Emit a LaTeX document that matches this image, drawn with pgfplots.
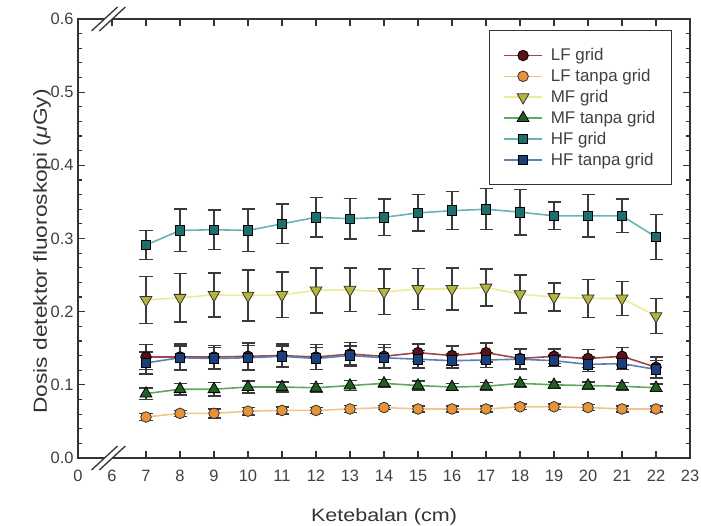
\documentclass[border=0pt]{standalone}
\usepackage{fontspec}
\setmainfont{Liberation Sans}
\newfontfamily\widefont[FakeStretch=1.2]{Liberation Sans}
\usepackage{pgfplots}
\usepackage{pgfplotstable}
\pgfplotsset{compat=1.18}
\definecolor{lfgF}{HTML}{5A1014}
\definecolor{lfgL}{HTML}{A04848}
\definecolor{lftF}{HTML}{E8923A}
\definecolor{lftL}{HTML}{F2C488}
\definecolor{mfgF}{HTML}{B5B53A}
\definecolor{mfgL}{HTML}{ECEC98}
\definecolor{mftF}{HTML}{1F5F1F}
\definecolor{mftL}{HTML}{60A860}
\definecolor{hfgF}{HTML}{1E6E6E}
\definecolor{hfgL}{HTML}{66B4B4}
\definecolor{hftF}{HTML}{1A3F7A}
\definecolor{hftL}{HTML}{5882B4}
\definecolor{errc}{HTML}{3A3A3A}

\pgfplotstableread{
x y e
7 0.138 0.017
8 0.138 0.018
9 0.138 0.016
10 0.139 0.018
11 0.140 0.016
12 0.138 0.017
13 0.142 0.016
14 0.139 0.016
15 0.144 0.012
16 0.140 0.013
17 0.144 0.013
18 0.136 0.014
19 0.139 0.010
20 0.136 0.012
21 0.139 0.012
22 0.124 0.014
}\lfgrid
\pgfplotstableread{
x y e
7 0.056 0.005
8 0.061 0.004
9 0.061 0.006
10 0.064 0.005
11 0.065 0.005
12 0.065 0.004
13 0.067 0.005
14 0.069 0.003
15 0.067 0.004
16 0.067 0.004
17 0.067 0.004
18 0.070 0.004
19 0.070 0.004
20 0.069 0.004
21 0.067 0.004
22 0.067 0.004
}\lftanpa
\pgfplotstableread{
x y e
7 0.216 0.032
8 0.219 0.033
9 0.223 0.030
10 0.222 0.035
11 0.223 0.031
12 0.229 0.031
13 0.230 0.030
14 0.227 0.031
15 0.231 0.028
16 0.231 0.029
17 0.233 0.025
18 0.224 0.026
19 0.220 0.019
20 0.218 0.026
21 0.218 0.023
22 0.194 0.024
}\mfgrid
\pgfplotstableread{
x y e
7 0.088 0.008
8 0.094 0.008
9 0.094 0.009
10 0.097 0.008
11 0.097 0.007
12 0.096 0.006
13 0.099 0.007
14 0.102 0.005
15 0.099 0.006
16 0.097 0.005
17 0.098 0.005
18 0.102 0.005
19 0.100 0.004
20 0.099 0.005
21 0.098 0.005
22 0.096 0.005
}\mftanpa
\pgfplotstableread{
x y e
7 0.291 0.020
8 0.311 0.029
9 0.312 0.027
10 0.311 0.029
11 0.320 0.027
12 0.329 0.027
13 0.327 0.028
14 0.329 0.025
15 0.335 0.025
16 0.338 0.026
17 0.340 0.028
18 0.336 0.031
19 0.331 0.019
20 0.331 0.029
21 0.331 0.023
22 0.302 0.031
}\hfgrid
\pgfplotstableread{
x y e
7 0.130 0.015
8 0.137 0.016
9 0.136 0.015
10 0.137 0.017
11 0.139 0.014
12 0.136 0.015
13 0.140 0.013
14 0.137 0.014
15 0.135 0.012
16 0.133 0.010
17 0.134 0.010
18 0.135 0.014
19 0.133 0.008
20 0.128 0.010
21 0.129 0.008
22 0.121 0.012
}\hftanpa

\begin{document}
\begin{tikzpicture}
\begin{axis}[
  name=ax,
  scale only axis,
  width=612bp, height=439bp,
  xmin=5, xmax=23, ymin=0, ymax=0.6,
  xtick={5,6,7,8,9,10,11,12,13,14,15,16,17,18,19,20,21,22,23},
  xticklabels={0,6,7,8,9,10,11,12,13,14,15,16,17,18,19,20,21,22,23},
  ytick={0,0.1,0.2,0.3,0.4,0.5,0.6},
  minor y tick num=4,
  yticklabel style={/pgf/number format/fixed,/pgf/number format/fixed zerofill,/pgf/number format/precision=1,xshift=-1bp},
  /pgf/number format/assume math mode=true,
  tick align=inside,
  major tick length=7bp,
  minor tick length=4.5bp,
  every tick/.style={line width=1.2bp,black!80},
  axis line style={line width=1.6bp,black!80},
  tick label style={font=\fontsize{16.5}{19}\selectfont,black!75},
  xticklabel style={yshift=-9bp},
  xlabel={Ketebalan (cm)},
  ylabel={Dosis detektor fluoroskopi (\textit{μ}Gy)},
  xlabel style={font=\widefont\fontsize{18}{21}\selectfont,black!80,yshift=-20bp},
  ylabel style={font=\widefont\fontsize{19}{22}\selectfont,black!80,yshift=-7bp,xshift=-13bp},
  clip=false,
  legend cell align=left,
  legend style={at={(0.9706,0.975)},anchor=north east,
    draw=black!80,line width=1.3bp,
    font=\fontsize{17}{19}\selectfont,
    inner xsep=14bp,inner ysep=16bp,row sep=3.1bp,
    nodes={text=black!75}},
  legend image code/.code={\draw[mark repeat=2,mark phase=2] plot coordinates {(0bp,0bp) (19bp,0bp) (38bp,0bp)};},
  every axis plot/.append style={line width=1.6bp},
  error bars/y dir=both, error bars/y explicit,
  error bars/error bar style={line width=1.5bp,errc},
  error bars/error mark options={rotate=90,mark size=6.5bp,line width=1.5bp,errc},
]
\addplot[lfgL, mark=*, mark size=5.3bp, mark options={fill=lfgF,draw=black,line width=0.8bp}]
  table[x=x,y=y,y error=e]{\lfgrid};
\addlegendentry{\hspace{6bp}LF grid}
\addplot[lftL, mark=*, mark size=5.3bp, mark options={fill=lftF,draw=black!80,line width=0.8bp}]
  table[x=x,y=y,y error=e]{\lftanpa};
\addlegendentry{\hspace{6bp}LF tanpa grid}
\addplot[mfgL, mark=triangle*, mark size=6.8bp, mark options={rotate=180,fill=mfgF,draw=black!80,line width=0.8bp}]
  table[x=x,y=y,y error=e]{\mfgrid};
\addlegendentry{\hspace{6bp}MF grid}
\addplot[mftL, mark=triangle*, mark size=6.8bp, mark options={fill=mftF,draw=black,line width=0.8bp}]
  table[x=x,y=y,y error=e]{\mftanpa};
\addlegendentry{\hspace{6bp}MF tanpa grid}
\addplot[hfgL, mark=square*, mark size=4.8bp, mark options={fill=hfgF,draw=black,line width=0.8bp}]
  table[x=x,y=y,y error=e]{\hfgrid};
\addlegendentry{\hspace{6bp}HF grid}
\addplot[hftL, mark=square*, mark size=4.8bp, mark options={fill=hftF,draw=black,line width=0.8bp}]
  table[x=x,y=y,y error=e]{\hftanpa};
\addlegendentry{\hspace{6bp}HF tanpa grid}
% axis break marks
\fill[white] ([shift={(-12bp,-12bp)}]axis cs:5.78,0) -- ([shift={(12bp,12bp)}]axis cs:5.78,0) -- ([shift={(12bp,12bp)}]axis cs:6.01,0) -- ([shift={(-12bp,-12bp)}]axis cs:6.01,0) -- cycle;
\draw[line width=1.3bp,black!80] ([shift={(-13bp,-12bp)}]axis cs:5.78,0) -- ([shift={(13bp,12bp)}]axis cs:5.78,0);
\draw[line width=1.3bp,black!80] ([shift={(-13bp,-12bp)}]axis cs:6.01,0) -- ([shift={(13bp,12bp)}]axis cs:6.01,0);
\fill[white] ([shift={(-12bp,-12bp)}]axis cs:5.78,0.6) -- ([shift={(12bp,12bp)}]axis cs:5.78,0.6) -- ([shift={(12bp,12bp)}]axis cs:6.01,0.6) -- ([shift={(-12bp,-12bp)}]axis cs:6.01,0.6) -- cycle;
\draw[line width=1.3bp,black!80] ([shift={(-13bp,-12bp)}]axis cs:5.78,0.6) -- ([shift={(13bp,12bp)}]axis cs:5.78,0.6);
\draw[line width=1.3bp,black!80] ([shift={(-13bp,-12bp)}]axis cs:6.01,0.6) -- ([shift={(13bp,12bp)}]axis cs:6.01,0.6);
\end{axis}
\pgfresetboundingbox
\path[use as bounding box] ([shift={(-78bp,-68bp)}]ax.south west) rectangle ([shift={(11bp,19bp)}]ax.north east);
\end{tikzpicture}
\end{document}
